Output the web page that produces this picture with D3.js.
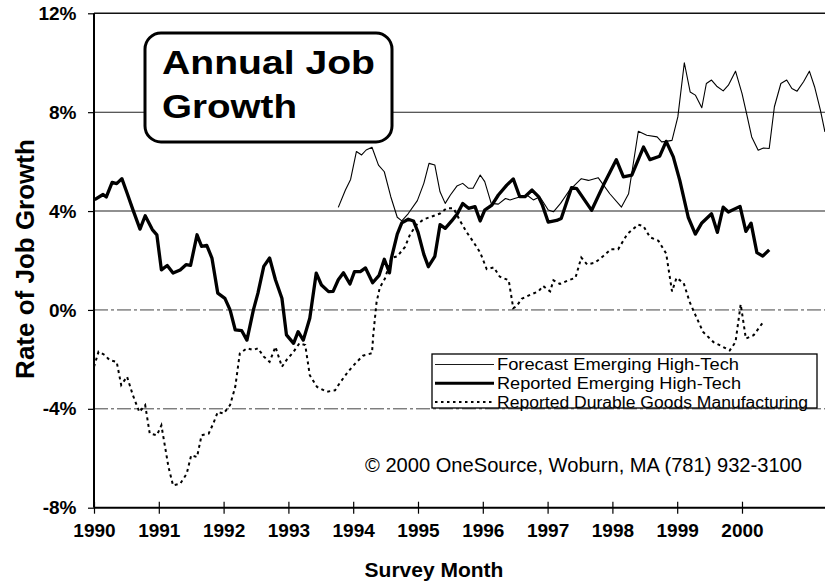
<!DOCTYPE html>
<html>
<head>
<meta charset="utf-8">
<script src="https://cdn.jsdelivr.net/npm/d3@7"></script>
<style>
  html, body { margin: 0; padding: 0; background: #fff; }
  svg { display: block; font-family: Arial, "Liberation Sans", Helvetica, sans-serif; }
</style>
</head>
<body>
<svg id="chart" width="825" height="586"></svg>
<script>
// ---------- DATA ----------
const yearTicks = [1990, 1991, 1992, 1993, 1994, 1995, 1996, 1997, 1998, 1999, 2000];
const yTicks = [-8, -4, 0, 4, 8, 12];
const gridValues = [-4, 0, 4, 8];

const seriesNames = [
  "Forecast Emerging High-Tech",
  "Reported Emerging High-Tech",
  "Reported Durable Goods Manufacturing"
];

// Forecast Emerging High-Tech (thin line)
const forecastDate = [1993.77,1993.88,1993.96,1994.05,1994.13,1994.20,1994.29,1994.39,1994.48,1994.58,1994.68,1994.75,1994.85,1994.99,1995.09,1995.17,1995.26,1995.34,1995.42,1995.50,1995.60,1995.69,1995.78,1995.85,1995.96,1996.03,1996.13,1996.24,1996.35,1996.42,1996.49,1996.58,1996.68,1996.78,1996.88,1997.01,1997.09,1997.20,1997.34,1997.52,1997.63,1997.78,1997.96,1998.14,1998.25,1998.40,1998.53,1998.69,1998.76,1998.83,1998.92,1999.01,1999.11,1999.20,1999.28,1999.38,1999.45,1999.53,1999.61,1999.71,1999.79,1999.90,2000.00,2000.07,2000.15,2000.25,2000.33,2000.42,2000.50,2000.60,2000.69,2000.77,2000.85,2000.95,2001.04,2001.12,2001.21,2001.28];
const forecastRate = [4.15,4.85,5.28,6.41,6.27,6.47,6.58,5.86,5.59,4.58,3.75,3.60,3.90,4.42,5.12,5.93,5.86,4.78,4.31,4.65,5.01,5.12,4.92,4.92,5.46,5.19,4.31,4.28,4.51,4.45,4.51,4.58,4.65,4.45,4.58,4.04,3.97,4.31,4.85,5.31,5.24,5.35,4.70,4.16,4.70,7.23,7.07,7.00,6.80,6.82,6.86,7.81,10.0,8.82,8.69,8.18,9.16,9.30,9.05,8.86,9.09,9.66,8.76,7.95,7.00,6.46,6.55,6.53,8.22,9.16,9.30,8.96,8.85,9.23,9.66,9.03,8.08,7.20];

// Reported Emerging High-Tech (thick line)
const reportedDate = [1990.01,1990.14,1990.19,1990.28,1990.35,1990.43,1990.51,1990.60,1990.71,1990.79,1990.90,1990.97,1991.04,1991.13,1991.22,1991.33,1991.42,1991.49,1991.59,1991.66,1991.74,1991.82,1991.91,1992.02,1992.10,1992.18,1992.28,1992.36,1992.46,1992.53,1992.62,1992.71,1992.80,1992.90,1992.97,1993.08,1993.15,1993.23,1993.33,1993.43,1993.51,1993.62,1993.69,1993.77,1993.85,1993.95,1994.02,1994.11,1994.19,1994.30,1994.40,1994.48,1994.56,1994.59,1994.68,1994.75,1994.85,1994.93,1995.00,1995.09,1995.16,1995.26,1995.34,1995.42,1995.52,1995.61,1995.69,1995.78,1995.88,1995.96,1996.03,1996.14,1996.24,1996.37,1996.47,1996.57,1996.65,1996.76,1996.86,1996.92,1997.01,1997.14,1997.21,1997.37,1997.45,1997.68,1997.86,1998.06,1998.17,1998.30,1998.48,1998.58,1998.73,1998.83,1998.94,1999.04,1999.17,1999.28,1999.38,1999.53,1999.62,1999.71,1999.79,1999.97,2000.06,2000.14,2000.23,2000.32,2000.42];
const reportedRate = [4.46,4.67,4.57,5.16,5.11,5.31,4.73,4.06,3.27,3.81,3.25,3.04,1.62,1.80,1.49,1.62,1.83,1.80,3.04,2.57,2.61,2.10,0.68,0.47,0.00,-0.81,-0.84,-1.22,0.00,0.68,1.76,2.10,1.22,0.47,-1.01,-1.35,-0.88,-1.22,-0.34,1.49,1.01,0.74,0.75,1.22,1.50,1.05,1.55,1.55,1.70,1.10,1.40,2.05,1.50,2.10,3.07,3.52,3.67,3.60,3.15,2.25,1.75,2.17,3.45,3.30,3.60,3.90,4.31,4.11,4.18,3.60,4.04,4.24,4.65,5.05,5.30,4.58,4.58,4.85,4.58,4.24,3.55,3.62,3.70,4.95,4.91,4.03,5.04,6.08,5.38,5.45,6.59,6.08,6.22,6.82,6.19,5.24,3.75,3.07,3.52,3.89,3.14,4.16,3.96,4.19,3.18,3.51,2.32,2.18,2.43];

// Reported Durable Goods Manufacturing (dotted line)
const durableDate = [1990.00,1990.07,1990.17,1990.24,1990.35,1990.42,1990.51,1990.60,1990.70,1990.79,1990.86,1990.97,1991.04,1991.15,1991.22,1991.33,1991.43,1991.50,1991.59,1991.66,1991.77,1991.84,1991.91,1992.00,1992.10,1992.18,1992.25,1992.36,1992.46,1992.53,1992.62,1992.71,1992.80,1992.90,1992.97,1993.08,1993.17,1993.26,1993.33,1993.44,1993.59,1993.72,1993.79,1993.92,1994.02,1994.15,1994.29,1994.31,1994.36,1994.41,1994.49,1994.59,1994.68,1994.80,1994.88,1994.98,1995.09,1995.18,1995.34,1995.44,1995.55,1995.65,1995.75,1995.85,1995.96,1996.06,1996.17,1996.26,1996.40,1996.47,1996.52,1996.60,1996.72,1996.86,1996.93,1997.04,1997.09,1997.19,1997.32,1997.43,1997.52,1997.61,1997.73,1997.86,1997.98,1998.09,1998.23,1998.40,1998.48,1998.58,1998.71,1998.83,1998.92,1998.99,1999.10,1999.19,1999.28,1999.40,1999.56,1999.71,1999.81,1999.90,1999.98,2000.06,2000.18,2000.33];
const durableRate = [-2.30,-1.69,-1.83,-2.03,-2.10,-3.04,-2.70,-3.45,-4.13,-3.85,-5.00,-5.07,-4.67,-6.36,-7.10,-7.03,-6.63,-5.88,-5.95,-5.07,-5.00,-4.60,-4.13,-4.19,-3.85,-3.11,-1.76,-1.55,-1.62,-1.55,-1.89,-2.10,-1.49,-2.30,-2.03,-1.69,-1.35,-1.42,-2.64,-3.11,-3.31,-3.25,-2.97,-2.50,-2.20,-1.85,-1.75,-1.00,0.30,0.90,1.27,2.10,2.17,2.55,3.07,3.45,3.67,3.75,3.90,4.11,4.11,3.60,3.15,2.77,2.32,1.65,1.72,1.35,1.20,0.07,0.15,0.45,0.60,0.75,0.97,0.75,1.20,1.05,1.20,1.30,2.12,1.84,1.91,2.18,2.46,2.46,3.07,3.45,3.39,2.94,2.80,2.28,0.75,1.30,1.09,0.34,-0.20,-0.89,-1.30,-1.50,-1.64,-1.30,0.23,-1.16,-1.02,-0.48];

// ---------- CHART ----------
(function () {
const svg = d3.select("#chart");
const W = 825, H = 586;
const mLeft = 94, mRight = 825, mTop = 13.3, mBottom = 507.7;

const x = d3.scaleLinear().domain([1990, 2001.281]).range([mLeft, mRight]);
const y = d3.scaleLinear().domain([-8, 12]).range([mBottom, mTop]);

svg.append("rect").attr("width", W).attr("height", H).attr("fill", "#fff");

// gridlines
svg.append("g").selectAll("line").data(gridValues).join("line")
  .attr("x1", mLeft).attr("x2", mRight)
  .attr("y1", d => y(d)).attr("y2", d => y(d))
  .attr("stroke", d => d > 0 ? "#222" : "#444")
  .attr("stroke-width", d => d > 0 ? 1.1 : 1)
  .attr("stroke-dasharray", d => d > 0 ? null : "14,3,3,3");

// top frame
svg.append("line").attr("x1", mLeft).attr("x2", mRight)
  .attr("y1", y(12)).attr("y2", y(12)).attr("stroke", "#111").attr("stroke-width", 1.4);

// lines
const toPts = (xs, ys) => xs.map((d, i) => [d, ys[i]]);
const lineGen = d3.line().x(d => x(d[0])).y(d => y(d[1]));

svg.append("path").datum(toPts(durableDate, durableRate))
  .attr("d", lineGen).attr("fill", "none").attr("stroke", "#000")
  .attr("stroke-width", 2).attr("stroke-dasharray", "3,3.5");

svg.append("path").datum(toPts(forecastDate, forecastRate))
  .attr("d", lineGen).attr("fill", "none").attr("stroke", "#000")
  .attr("stroke-width", 1.1).attr("stroke-linejoin", "round");

svg.append("path").datum(toPts(reportedDate, reportedRate))
  .attr("d", lineGen).attr("fill", "none").attr("stroke", "#000")
  .attr("stroke-width", 3.3).attr("stroke-linejoin", "round");

// axes
const xAxis = svg.append("g").attr("transform", `translate(0,${mBottom})`)
  .call(d3.axisBottom(x).tickValues(yearTicks).tickFormat(d3.format("d")).tickSize(6).tickPadding(9.5));
xAxis.select(".domain").attr("d", `M${mLeft},0H${mRight}`).attr("stroke", "#000").attr("stroke-width", 2);
xAxis.selectAll(".tick line").attr("y1", -6).attr("y2", 6).attr("stroke", "#000").attr("stroke-width", 1.2);
xAxis.selectAll(".tick text").attr("font-size", 19).attr("font-weight", "bold")
  .attr("font-family", "Arial, 'Liberation Sans', sans-serif").attr("fill", "#000");

const yAxis = svg.append("g").attr("transform", `translate(${mLeft},0)`)
  .call(d3.axisLeft(y).tickValues(yTicks).tickFormat(d => d + "%").tickSize(6).tickPadding(11.5));
yAxis.select(".domain").attr("d", `M0,${mTop}V${mBottom}`).attr("stroke", "#000").attr("stroke-width", 2);
yAxis.selectAll(".tick line").attr("stroke", "#000").attr("stroke-width", 1.2);
yAxis.selectAll(".tick text").attr("font-size", 19).attr("font-weight", "bold")
  .attr("font-family", "Arial, 'Liberation Sans', sans-serif").attr("fill", "#000");

// axis titles
svg.append("text").attr("x", 434).attr("y", 577).attr("text-anchor", "middle")
  .attr("font-size", 21).attr("font-weight", "bold").text("Survey Month");
svg.append("text").attr("transform", "translate(34,259) rotate(-90)").attr("text-anchor", "middle")
  .attr("font-size", 26).attr("font-weight", "bold").text("Rate of Job Growth");

// title box
svg.append("rect").attr("x", 145).attr("y", 33).attr("width", 247).attr("height", 109)
  .attr("rx", 16).attr("ry", 16).attr("fill", "#fff").attr("stroke", "#000").attr("stroke-width", 3);
svg.append("text").attr("x", 162).attr("y", 74).attr("font-size", 33).attr("font-weight", "bold")
  .attr("textLength", 213).attr("lengthAdjust", "spacingAndGlyphs").text("Annual Job");
svg.append("text").attr("x", 162).attr("y", 118).attr("font-size", 33).attr("font-weight", "bold")
  .attr("textLength", 135).attr("lengthAdjust", "spacingAndGlyphs").text("Growth");

// legend
const lg = svg.append("g");
lg.append("rect").attr("x", 432).attr("y", 354).attr("width", 385).attr("height", 54)
  .attr("fill", "#fff").attr("stroke", "#000").attr("stroke-width", 1.3);
const legStyles = [
  {w: 0.9, dash: null},
  {w: 3, dash: null},
  {w: 1.8, dash: "2.5,3.5"}
];
const legLen = [242, 244, 311];
const rowY = [364.5, 383.25, 402];
seriesNames.forEach((name, i) => {
  lg.append("line").attr("x1", 435).attr("x2", 494).attr("y1", rowY[i]).attr("y2", rowY[i])
    .attr("stroke", "#000").attr("stroke-width", legStyles[i].w)
    .attr("stroke-dasharray", legStyles[i].dash);
  lg.append("text").attr("x", 497).attr("y", rowY[i]).attr("dy", "0.36em")
    .attr("font-size", 16).attr("textLength", legLen[i]).attr("lengthAdjust", "spacingAndGlyphs")
    .text(name);
});

// copyright
svg.append("text").attr("x", 365).attr("y", 465).attr("dy", "0.36em")
  .attr("font-size", 20).attr("textLength", 437).attr("lengthAdjust", "spacingAndGlyphs")
  .text("© 2000 OneSource, Woburn, MA (781) 932-3100");
})();
</script>
</body>
</html>
